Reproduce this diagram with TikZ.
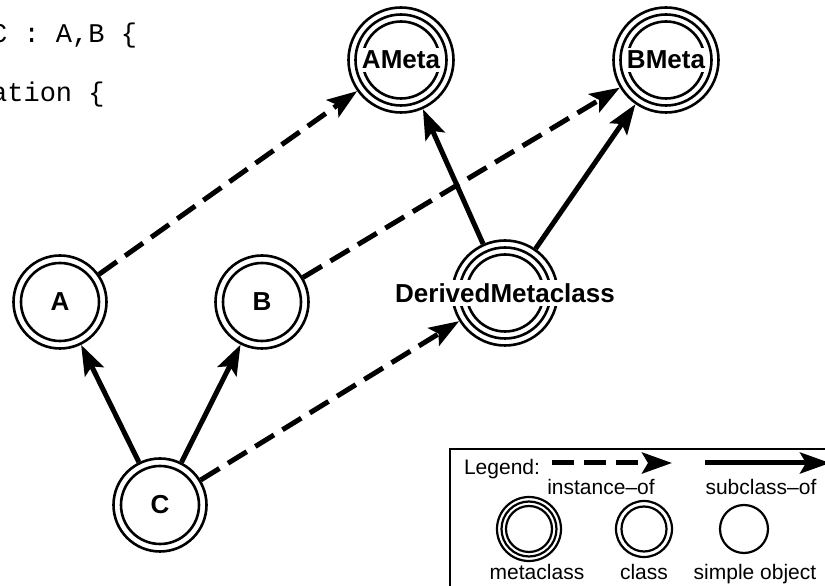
\documentclass[tikz,border=0pt]{standalone}
\usepackage{fontspec}
\setmainfont{Liberation Sans}
\setmonofont{Liberation Mono}
\usetikzlibrary{arrows.meta}

\tikzset{
  ring/.style={circle, draw, line width=2.6pt, inner sep=0pt},
  metanode/.style={ring, minimum size=105pt},
  classnode/.style={ring, minimum size=93pt, font=\bfseries\fontsize{26}{26}\selectfont},
  ringline/.style={line width=2.6pt},
  lbl/.style={font=\bfseries\fontsize{26}{26}\selectfont, fill=white, inner sep=3pt},
  subclassof/.style={line width=5pt, -{Stealth[length=30pt, width=21pt, inset=6pt]}},
  instanceof/.style={subclassof, dash pattern=on 22pt off 10pt},
  legtext/.style={font=\fontsize{21}{21}\selectfont, anchor=base, inner sep=0pt},
  legring/.style={circle, draw, line width=2.2pt, inner sep=0pt},
  code/.style={font=\ttfamily\fontsize{27}{27}\selectfont, anchor=base west, inner sep=0pt},
}

\begin{document}
\begin{tikzpicture}[x=1pt, y=1pt]
  \useasboundingbox (0,0) rectangle (825,586);
  \clip (0,0) rectangle (825,586);
  % code fragment
  \node[code] (line1) at (-9,543) {C : A,B \{};
  \node[code] (line2) at (-9,484) {ation \{};
  % classes and metaclasses
  \node[metanode] (AMeta) at (401,526) {};
  \node[metanode] (BMeta) at (666,526) {};
  \node[metanode] (Derived) at (505,293) {};
  \node[classnode] (A) at (60,284) {A};
  \node[classnode] (B) at (262,284) {B};
  \node[classnode] (C) at (160,81) {C};
  \foreach \n in {AMeta,BMeta,Derived} {
    \draw[ringline] (\n) circle [radius=45.5];
    \draw[ringline] (\n) circle [radius=38.5];
  }
  \foreach \n in {A,B,C}
    \draw[ringline] (\n) circle [radius=39];
  \node[lbl] (AMeta-t) at (AMeta) {AMeta};
  \node[lbl] (BMeta-t) at (BMeta) {BMeta};
  \node[lbl] (Derived-t) at (Derived) {DerivedMetaclass};
  % relations
  \draw[instanceof] (A) -- (AMeta);
  \draw[instanceof] (B) -- (BMeta);
  \draw[instanceof] (C) -- (Derived);
  \draw[subclassof] (C) -- (A);
  \draw[subclassof] (C) -- (B);
  \draw[subclassof] (Derived) -- (AMeta);
  \draw[subclassof] (Derived) -- (BMeta);
  % legend
  \draw[line width=1.6pt] (450,-20) rectangle (900,137);
  \node[legtext] (leg) at (502,111) {Legend:};
  \coordinate (inst-s) at (552,123);
  \coordinate (inst-e) at (672,123);
  \coordinate (sub-s) at (705,123);
  \coordinate (sub-e) at (830,123);
  \draw[instanceof] (inst-s) -- (inst-e);
  \draw[subclassof] (sub-s) -- (sub-e);
  \node[legtext] (inst-t) at (601,91) {instance–of};
  \node[legtext] (sub-t) at (761,91) {subclass–of};
  \node[legring, minimum size=64pt] (leg-meta) at (529,57) {};
  \draw[line width=2.2pt] (leg-meta) circle [radius=27.5];
  \draw[line width=2.2pt] (leg-meta) circle [radius=23];
  \node[legring, minimum size=56pt] (leg-class) at (644,57) {};
  \draw[line width=2.2pt] (leg-class) circle [radius=22.5];
  \node[legring, minimum size=48pt] (leg-obj) at (744,57) {};
  \node[legtext] (leg-meta-t) at (537,6) {metaclass};
  \node[legtext] (leg-class-t) at (644,6) {class};
  \node[legtext] (leg-obj-t) at (755,6) {simple object};
\end{tikzpicture}
\end{document}
